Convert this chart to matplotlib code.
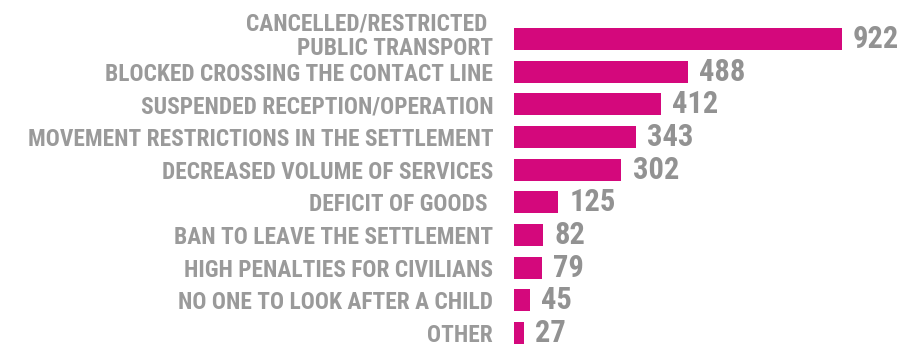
import matplotlib
matplotlib.use("Agg")
import matplotlib.pyplot as plt
import matplotlib.transforms as mtransforms
from matplotlib import font_manager

categories = [
    "CANCELLED/RESTRICTED \nPUBLIC TRANSPORT",
    "BLOCKED CROSSING THE CONTACT LINE",
    "SUSPENDED RECEPTION/OPERATION",
    "MOVEMENT RESTRICTIONS IN THE SETTLEMENT",
    "DECREASED VOLUME OF SERVICES",
    "DEFICIT OF GOODS ",
    "BAN TO LEAVE THE SETTLEMENT",
    "HIGH PENALTIES FOR CIVILIANS",
    "NO ONE TO LOOK AFTER A CHILD",
    "OTHER",
]
counts = [922, 488, 412, 343, 302, 125, 82, 79, 45, 27]

names = {f.name for f in font_manager.fontManager.ttflist}
family = [n for n in ["Roboto Condensed", "Liberation Sans Narrow", "Liberation Sans"] if n in names] + ["DejaVu Sans"]

bar_color = "#d4087c"
label_color = "#9a9a9a"
value_color = "#929292"

W, H = 915, 347
fig = plt.figure(figsize=(W / 100, H / 100), dpi=100)

row = 32.7
top_px = 39 - row / 2
bot_px = 333 + row / 2
left_px, right_px = 514, 905
ax = fig.add_axes([left_px / W, 1 - bot_px / H, (right_px - left_px) / W, (bot_px - top_px) / H])

y = list(range(len(counts)))
ax.barh(y, counts, height=0.67, color=bar_color, linewidth=0)
ax.set_ylim(len(counts) - 0.5, -0.5)
ax.set_xlim(0, 922 * (right_px - left_px) / (842 - left_px))

ax.set_yticks(y)
ax.set_yticklabels(categories, fontsize=16.8, fontweight="bold", color=label_color,
                   family=family, linespacing=1.1)
ax.tick_params(axis="y", length=0, pad=15)
ax.set_xticks([])
for s in ax.spines.values():
    s.set_visible(False)

# lift the two-line label a little so it clears the row below
first = ax.get_yticklabels()[0]
first.set_transform(first.get_transform() +
                    mtransforms.ScaledTranslation(0, 6 / 100, fig.dpi_scale_trans))

for yi, v in zip(y, counts):
    ax.annotate(str(v), (v, yi), xytext=(8, 0), textcoords="offset points",
                ha="left", va="center", fontsize=22, fontweight="bold",
                color=value_color, family=family)

fig.savefig("out.png", dpi=100, facecolor="white")
